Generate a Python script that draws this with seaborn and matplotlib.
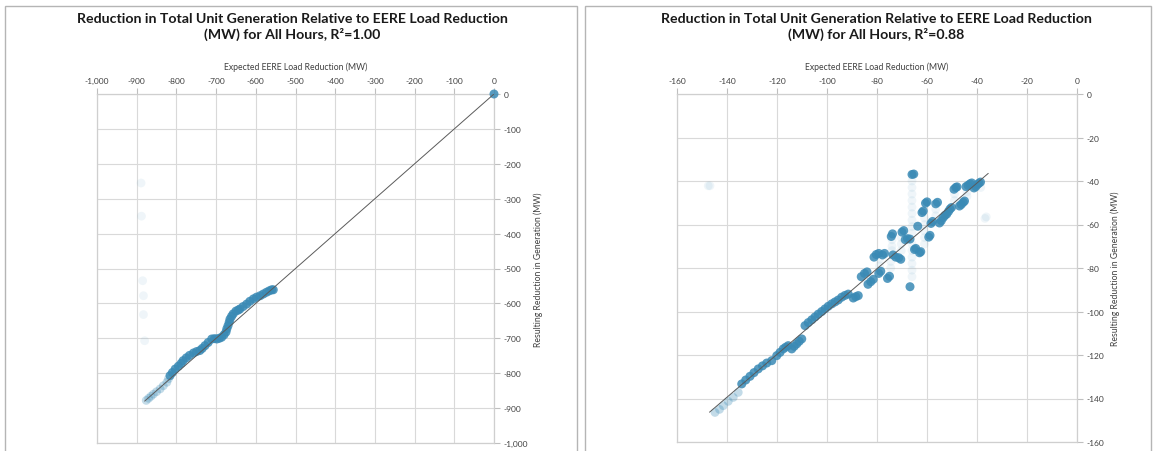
import numpy as np
import pandas as pd
import matplotlib
matplotlib.use("Agg")
import matplotlib.pyplot as plt
from matplotlib.patches import Rectangle
from matplotlib.ticker import FuncFormatter
import seaborn as sns

# Panel 1: all hours, large reductions (MW)
left_x_dense = [-816, -810, -803, -795, -788, -783, -775, -767, -757, -749, -741, -735, -728, -720,
                -711, -704, -698, -692, -686, -680, -675, -673, -670, -667, -665, -661, -657, -650,
                -644, -640, -632, -623, -615, -606, -598, -589, -581, -573, -566, -560, -556, 0]
left_y_dense = [-807, -798, -788, -780, -772, -764, -756, -749, -742, -738, -735, -729, -721, -712,
                -702, -701, -702, -700, -697, -690, -682, -673, -664, -654, -645, -637, -630, -622,
                -619, -616, -609, -602, -594, -587, -582, -578, -573, -568, -564, -561, -561, 0]
left_x_mid = [-876, -870, -864, -858, -850, -841, -833, -824, -820]
left_y_mid = [-878, -872, -866, -860, -853, -845, -836, -826, -816]
left_x_sparse = [-889, -888, -885, -883, -883, -880]
left_y_sparse = [-255, -350, -535, -578, -632, -707]
left_trend_x = [-880, 0]
left_trend_y = [-880, 0]

# Panel 2: all hours, small reductions (MW)
right_x_dense = [-134.1, -132.5, -130.8, -129.2, -127.5, -125.8, -124.1, -122.1, -120.1, -118.8, -117.5,
                 -116.5, -115.5, -114.1, -113.1, -112.1, -111.1, -110.1, -108.8, -107.5, -106.1, -104.8,
                 -103.5, -102.1, -100.8, -99.5, -98.1, -96.8, -95.5, -94.1, -92.8, -91.5, -89.5, -88.5,
                 -87.5, -86.3, -85.0, -84.0, -83.6, -82.5, -81.5, -81.2, -80.3, -79.3, -79.3, -78.5,
                 -77.8, -77.0, -75.8, -75.0, -74.3, -73.8, -73.6, -72.5, -71.3, -70.5, -70.0, -69.3,
                 -68.7, -67.8, -66.8, -66.8, -66.0, -65.3, -65.0, -64.5, -63.7, -63.0, -62.5, -62.0,
                 -61.5, -60.6, -60.0, -59.3, -58.8, -58.4, -57.8, -56.5, -55.8, -55.0, -54.3, -53.5,
                 -52.8, -52.1, -51.4, -50.8, -50.2, -49.2, -48.5, -48.0, -47.0, -46.3, -45.5, -45.0,
                 -44.4, -43.6, -42.8, -42.1, -41.2, -40.5, -39.8, -39.2, -38.6]
right_y_dense = [-133.3, -131.5, -129.8, -128.1, -126.4, -125.0, -123.7, -122.6, -120.3, -118.8, -117.2,
                 -116.4, -115.7, -117.2, -116.0, -114.9, -113.7, -112.6, -106.5, -105.1, -103.8, -102.5,
                 -101.2, -100.0, -98.8, -97.6, -96.5, -95.6, -94.7, -93.4, -92.6, -92.0, -93.8, -93.2,
                 -92.7, -84.0, -82.5, -81.8, -87.5, -86.3, -85.2, -75.0, -73.8, -73.3, -82.5, -81.5,
                 -74.0, -73.3, -84.8, -83.8, -65.5, -64.3, -74.0, -75.0, -75.3, -76.0, -63.5, -62.8,
                 -67.0, -66.5, -66.7, -88.6, -37.0, -36.8, -71.5, -71.0, -60.8, -73.0, -72.5, -54.5,
                 -53.8, -50.2, -49.6, -65.8, -65.0, -59.5, -58.6, -50.5, -49.8, -59.3, -58.3, -56.8,
                 -55.8, -55.2, -54.0, -52.9, -52.2, -43.8, -43.0, -42.7, -51.5, -50.8, -49.8, -49.2,
                 -42.6, -42.0, -41.3, -40.9, -43.2, -42.6, -41.6, -41.0, -40.5]
right_x_mid = [-144.8, -143.0, -141.5, -139.5, -137.5, -135.5]
right_y_mid = [-146.4, -145.0, -143.3, -141.3, -139.5, -137.2]
right_x_sparse = [-146.8, -147.5, -36.8, -36.3,
                  -66, -66, -66, -66, -66, -66, -66, -66, -66, -66, -66, -66, -66, -66, -66,
                  -70.3, -70.3, -70.3, -74, -74, -74, -79, -79, -61, -61, -61, -61, -61,
                  -56.5, -56.5, -49, -49, -85, -74.5, -74.5, -44, -44, -38.5]
right_y_sparse = [-42.2, -42.2, -57.2, -56.5,
                  -40, -43, -46, -49, -52, -55, -58, -61, -64, -69, -72, -75, -78, -81, -84,
                  -66, -69, -72, -67, -70, -72, -76, -79, -57, -60, -63, -66, -69,
                  -53, -56, -46, -49, -85, -77, -80, -45, -47, -43]
right_trend_x = [-147, -35.5]
right_trend_y = [-146.3, -36.5]

title_left = "Reduction in Total Unit Generation Relative to EERE Load Reduction\n(MW) for All Hours, R²=1.00"
title_right = "Reduction in Total Unit Generation Relative to EERE Load Reduction\n(MW) for All Hours, R²=0.88"
xlabel = "Expected EERE Load Reduction (MW)"
ylabel = "Resulting Reduction in Generation (MW)"

sns.set_style("white")
plt.rcParams['font.family'] = ['Lato', 'DejaVu Sans']

dot = "#3a8ab5"
grid = "#d9d9d9"
txt = "#404040"

fig = plt.figure(figsize=(11.54, 4.52), dpi=100)

# panel frames
fig.patches.append(Rectangle((5 / 1154, -0.05), 572 / 1154, 1.0 - 7 / 452 + 0.05,
                             transform=fig.transFigure, fill=False, edgecolor="#b5b5b5", lw=1))
fig.patches.append(Rectangle((585 / 1154, -0.05), 566 / 1154, 1.0 - 7 / 452 + 0.05,
                             transform=fig.transFigure, fill=False, edgecolor="#b5b5b5", lw=1))

ax1 = fig.add_axes([97 / 1154, 1 - 444 / 452, 397 / 1154, 349 / 452])
ax2 = fig.add_axes([677 / 1154, 1 - 443 / 452, 400 / 1154, 348 / 452])


def draw(ax, xd, yd, xm, ym, xs, ys, tx, ty, lim, step, fmt):
    sns.scatterplot(x=xs, y=ys, ax=ax, color=dot, alpha=0.08, s=40, edgecolor="none", zorder=3)
    sns.scatterplot(x=xm, y=ym, ax=ax, color=dot, alpha=0.3, s=40, edgecolor="none", zorder=3)
    sns.scatterplot(x=xd, y=yd, ax=ax, color=dot, alpha=0.85, s=42, edgecolor="none", zorder=3,
                    clip_on=False)
    sns.lineplot(x=tx, y=ty, ax=ax, color="#5a5a5a", lw=0.7, zorder=4)
    ax.set_xlim(lim, 0)
    ax.set_ylim(lim, 0)
    ticks = np.arange(lim, 1, step)
    ax.set_xticks(ticks)
    ax.set_yticks(ticks)
    ax.xaxis.set_major_formatter(FuncFormatter(fmt))
    ax.yaxis.set_major_formatter(FuncFormatter(fmt))
    ax.xaxis.tick_top()
    ax.yaxis.tick_right()
    ax.xaxis.set_label_position("top")
    ax.yaxis.set_label_position("right")
    ax.tick_params(axis="both", direction="out", length=4, width=0.8, color="#bfbfbf",
                   labelsize=6, labelcolor=txt, pad=3)
    ax.tick_params(axis="y", pad=3)
    ax.grid(True, color=grid, lw=0.8)
    for sp in ax.spines.values():
        sp.set_color("#cfcfcf")
        sp.set_linewidth(0.9)
    ax.set_xlabel(xlabel, fontsize=6.2, color=txt, labelpad=6)
    ax.set_ylabel(ylabel, fontsize=6.2, color=txt, labelpad=4)


draw(ax1, left_x_dense, left_y_dense, left_x_mid, left_y_mid, left_x_sparse, left_y_sparse,
     left_trend_x, left_trend_y, -1000, 100, lambda v, p: f"{v:,.0f}")
draw(ax2, right_x_dense, right_y_dense, right_x_mid, right_y_mid, right_x_sparse, right_y_sparse,
     right_trend_x, right_trend_y, -160, 20, lambda v, p: f"{v:.0f}")

fig.text(292 / 1154, 1 - 13 / 452, title_left, ha="center", va="top", fontsize=10.2,
         fontweight="bold", color="#1a1a1a", linespacing=1.3)
fig.text(876 / 1154, 1 - 13 / 452, title_right, ha="center", va="top", fontsize=10.2,
         fontweight="bold", color="#1a1a1a", linespacing=1.3)

fig.savefig("out.png", dpi=100)
